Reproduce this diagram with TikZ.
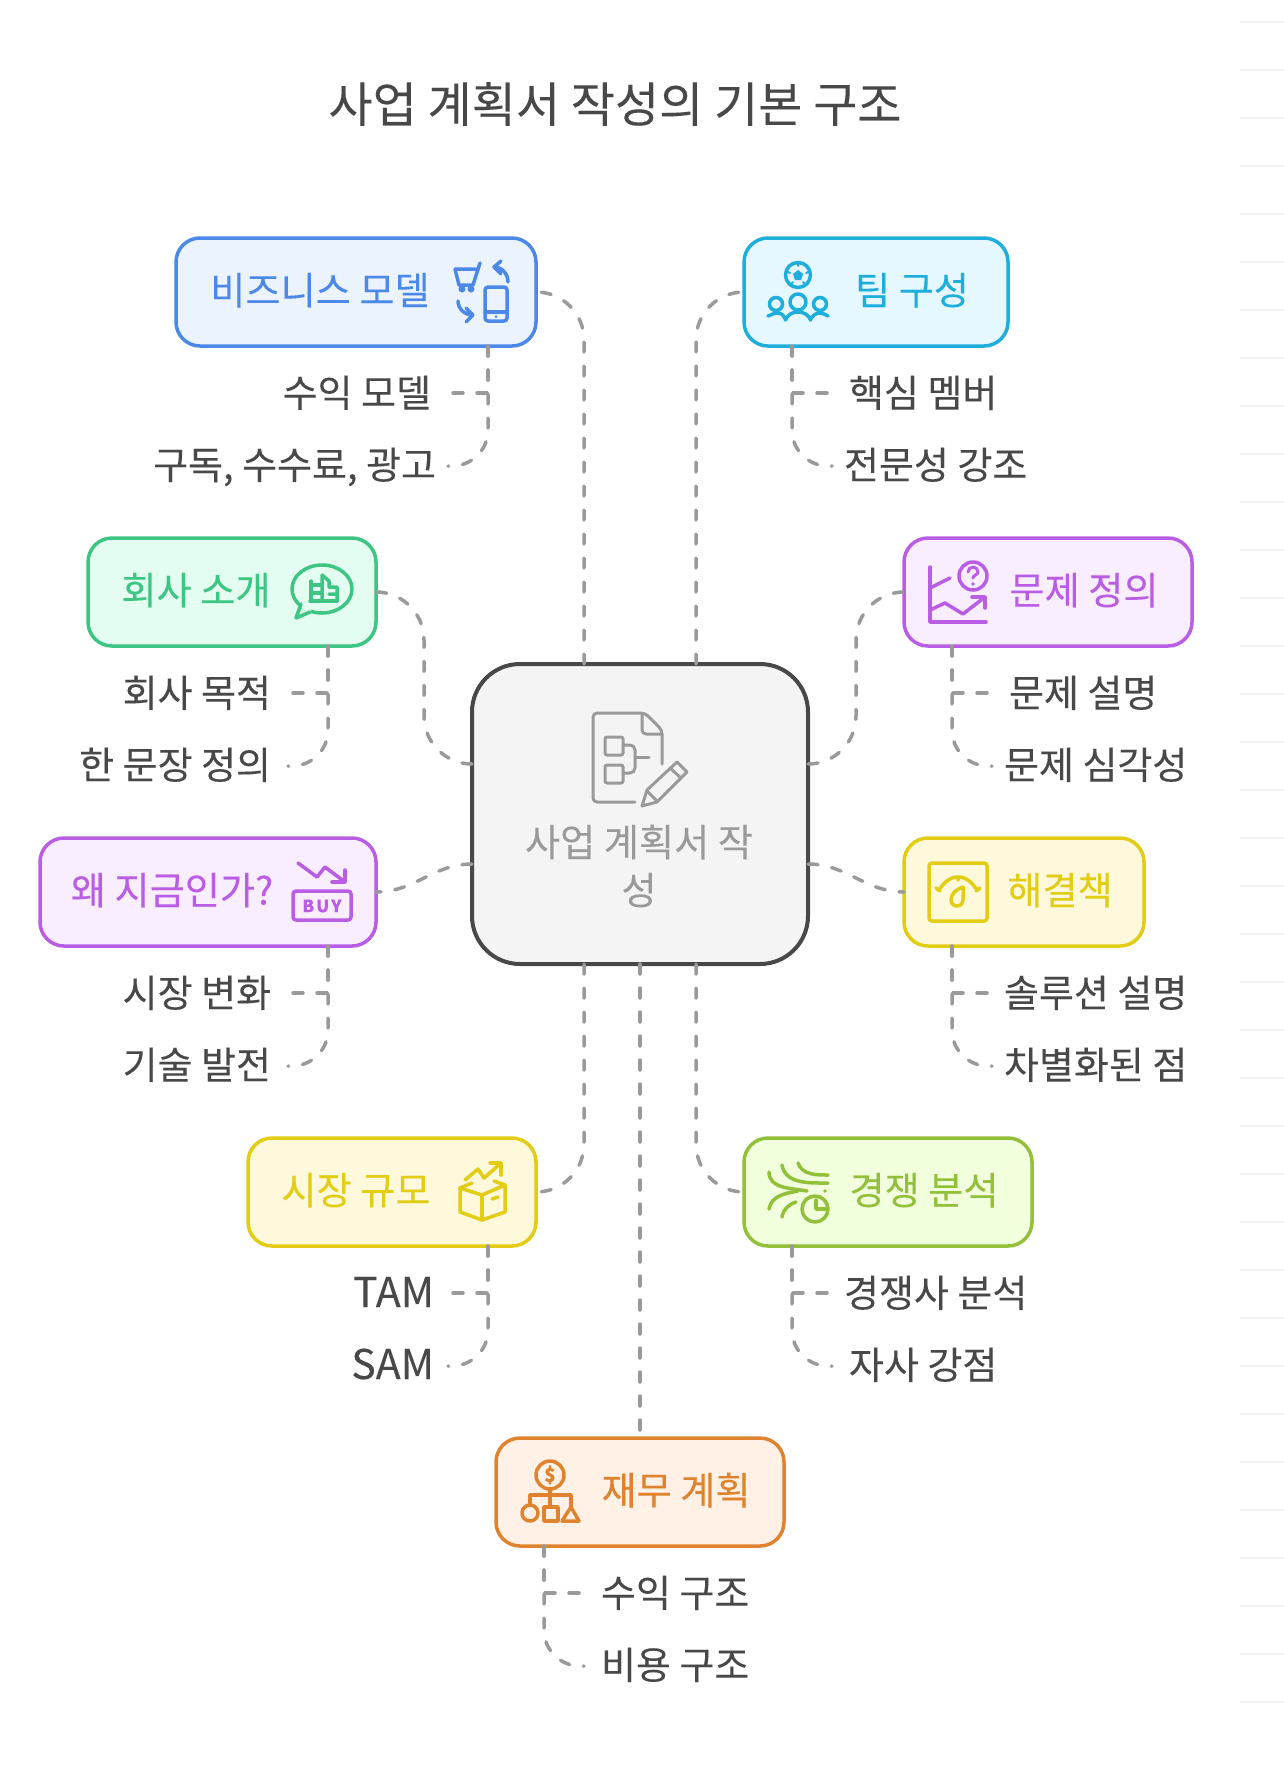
\documentclass[tikz,border=0pt]{standalone}
\usepackage{fontspec}
\setmainfont[FakeBold=0.12]{Noto Sans CJK KR}
\usetikzlibrary{arrows.meta,positioning,calc}
\definecolor{inkgray}{HTML}{484848}
\definecolor{flowgray}{HTML}{9A9A9A}
\definecolor{bizline}{HTML}{4C88E8}
\definecolor{bizfill}{HTML}{EBF3FF}
\definecolor{teamline}{HTML}{1EAEDB}
\definecolor{teamfill}{HTML}{E6F8FF}
\definecolor{firmline}{HTML}{3CC583}
\definecolor{firmfill}{HTML}{E3FDF0}
\definecolor{plumline}{HTML}{BA5DE5}
\definecolor{plumfill}{HTML}{F9EEFF}
\definecolor{goldline}{HTML}{E2CC14}
\definecolor{goldfill}{HTML}{FEF9DB}
\definecolor{rivalline}{HTML}{93C03A}
\definecolor{rivalfill}{HTML}{F2FFDC}
\definecolor{cashline}{HTML}{E0832F}
\definecolor{cashfill}{HTML}{FFF1E5}
\newcommand{\iconpad}{\hspace*{72pt}}

\begin{document}
\begin{tikzpicture}[
    x=1pt,y=-1pt,
    topic/.style 2 args={draw=#1,fill=#2,text=#1,line width=3.5pt,rounded corners=24pt,
      minimum height=108pt,inner sep=0pt,outer sep=0pt,text height=29pt,text depth=4pt,
      font=\fontsize{38.2pt}{46pt}\selectfont},
    core/.style={draw=inkgray,fill=black!4.5,line width=4pt,rounded corners=48pt,
      minimum width=336pt,minimum height=300pt,outer sep=0pt},
    subl/.style={text=inkgray,inner ysep=0pt,inner xsep=22pt,outer sep=0pt,text height=30pt,
      text depth=2pt,font=\fontsize{38pt}{46pt}\selectfont},
    subb/.style={subl,inner xsep=17pt,text height=29pt,text depth=3pt},
    latin/.style={font=\fontsize{41pt}{46pt}\selectfont},
    flow/.style={draw=flowgray,line width=3.5pt,dash pattern=on 10pt off 14pt,line cap=round},
    bendflow/.style={flow,rounded corners=48pt},
    curlflow/.style={flow,rounded corners=36pt},
    icon/.style={color=#1,line width=3.5pt,line cap=round,line join=round},
    glyph/.style 2 args={text=#1,inner sep=0pt,outer sep=0pt,font=\bfseries\fontsize{#2}{#2}\selectfont}
  ]
    \fill[white] (0,0) rectangle (1284,1770);
    \useasboundingbox (0,0) rectangle (1284,1770);
    \foreach \k in {0,...,35}
      \draw[black!5,line width=2pt] (1240,22+48*\k) -- (1284,22+48*\k);

    \node[text=inkgray,font=\fontsize{48pt}{56pt}\selectfont] (title) at (615,104) {사업 계획서 작성의 기본 구조};

    % middle
    \node[core] (ctr) at (640,814) {};
    \node[text=flowgray,align=center,font=\fontsize{38.2pt}{48pt}\selectfont] (ctrtext) at (639,866) {사업 계획서 작\\성};
    \coordinate (ctrnw) at ([xshift=-56pt]ctr.north);
    \coordinate (ctrne) at ([xshift=56pt]ctr.north);
    \coordinate (ctrsw) at ([xshift=-56pt]ctr.south);
    \coordinate (ctrse) at ([xshift=56pt]ctr.south);
    \coordinate (ctrwn) at ([yshift=50pt]ctr.west);
    \coordinate (ctrws) at ([yshift=-50pt]ctr.west);
    \coordinate (ctren) at ([yshift=50pt]ctr.east);
    \coordinate (ctres) at ([yshift=-50pt]ctr.east);

    % topics
    \node[topic={bizline}{bizfill},minimum width=360pt] (biz) at (356,292) {비즈니스 모델\iconpad};
    \node[topic={teamline}{teamfill},minimum width=264pt] (team) at (876,292) {\iconpad 팀 구성};
    \node[topic={firmline}{firmfill},minimum width=288pt] (firm) at (232,592) {회사 소개\iconpad};
    \node[topic={plumline}{plumfill},minimum width=288pt] (prob) at (1048,592) {\iconpad 문제 정의};
    \node[topic={plumline}{plumfill},minimum width=336pt] (why) at (208,892) {왜 지금인가?\iconpad};
    \node[topic={goldline}{goldfill},minimum width=240pt] (solve) at (1024,892) {\iconpad 해결책};
    \node[topic={goldline}{goldfill},minimum width=288pt] (market) at (392,1192) {시장 규모\iconpad};
    \node[topic={rivalline}{rivalfill},minimum width=288pt] (rival) at (888,1192) {\iconpad 경쟁 분석};
    \node[topic={cashline}{cashfill},minimum width=288pt] (cash) at (640,1492) {\iconpad 재무 계획};

    \coordinate (bizfoot) at (488,346);
    \coordinate (teamfoot) at (792,346);
    \coordinate (firmfoot) at (328,646);
    \coordinate (probfoot) at (952,646);
    \coordinate (whyfoot) at (328,946);
    \coordinate (solvefoot) at (952,946);
    \coordinate (marketfoot) at (488,1246);
    \coordinate (rivalfoot) at (792,1246);
    \coordinate (cashfoot) at (544,1546);

    % labels under the topics
    \node[subl,anchor=east] (bizA) at ([shift={(-35,47)}]bizfoot) {수익 모델};
    \node[subb,inner xsep=12pt,below=73pt of bizA.east,xshift=-5pt,anchor=east] (bizB) {구독, 수수료, 광고};
    \node[subl,anchor=west] (teamA) at ([shift={(35,47)}]teamfoot) {핵심 멤버};
    \node[subb,inner xsep=12pt,below=73pt of teamA.west,xshift=5pt,anchor=west] (teamB) {전문성 강조};
    \node[subl,anchor=east] (firmA) at ([shift={(-35,47)}]firmfoot) {회사 목적};
    \node[subb,below=73pt of firmA.east,xshift=-5pt,anchor=east] (firmB) {한 문장 정의};
    \node[subl,anchor=west] (probA) at ([shift={(35,47)}]probfoot) {문제 설명};
    \node[subb,inner xsep=12pt,below=73pt of probA.west,xshift=5pt,anchor=west] (probB) {문제 심각성};
    \node[subl,anchor=east] (whyA) at ([shift={(-35,47)}]whyfoot) {시장 변화};
    \node[subb,below=73pt of whyA.east,xshift=-5pt,anchor=east] (whyB) {기술 발전};
    \node[subl,inner xsep=17pt,anchor=west] (solveA) at ([shift={(35,47)}]solvefoot) {솔루션 설명};
    \node[subb,inner xsep=12pt,below=73pt of solveA.west,xshift=5pt,anchor=west] (solveB) {차별화된 점};
    \node[subl,latin,inner xsep=19pt,anchor=east] (marketA) at ([shift={(-35,47)}]marketfoot) {TAM};
    \node[subb,latin,inner xsep=14pt,below=73pt of marketA.east,xshift=-5pt,anchor=east] (marketB) {SAM};
    \node[subl,inner xsep=17pt,anchor=west] (rivalA) at ([shift={(35,47)}]rivalfoot) {경쟁사 분석};
    \node[subb,below=73pt of rivalA.west,xshift=5pt,anchor=west] (rivalB) {자사 강점};
    \node[subl,anchor=west] (cashA) at ([shift={(35,47)}]cashfoot) {수익 구조};
    \node[subb,below=73pt of cashA.west,xshift=5pt,anchor=west] (cashB) {비용 구조};

    % links from the middle
    \draw[bendflow] (ctrnw) |- (biz.east);
    \draw[bendflow] (ctrne) |- (team.west);
    \draw[bendflow] (ctrwn) -- ++(-48,0) |- (firm.east);
    \draw[bendflow] (ctren) -- ++(48,0) |- (prob.west);
    \draw[flow] (ctrws) to[out=180,in=0] (why.east);
    \draw[flow] (ctres) to[out=0,in=180] (solve.west);
    \draw[bendflow] (ctrsw) |- (market.east);
    \draw[bendflow] (ctrse) |- (rival.west);
    \draw[flow] (ctr.south) -- (cash.north);

    % links under the topics
    \draw[flow] (bizfoot) |- (bizA.east);
    \draw[curlflow] (bizfoot) |- (bizB.east);
    \draw[flow] (teamfoot) |- (teamA.west);
    \draw[curlflow] (teamfoot) |- (teamB.west);
    \draw[flow] (firmfoot) |- (firmA.east);
    \draw[curlflow] (firmfoot) |- (firmB.east);
    \draw[flow] (probfoot) |- (probA.west);
    \draw[curlflow] (probfoot) |- (probB.west);
    \draw[flow] (whyfoot) |- (whyA.east);
    \draw[curlflow] (whyfoot) |- (whyB.east);
    \draw[flow] (solvefoot) |- (solveA.west);
    \draw[curlflow] (solvefoot) |- (solveB.west);
    \draw[flow] (marketfoot) |- (marketA.east);
    \draw[curlflow] (marketfoot) |- (marketB.east);
    \draw[flow] (rivalfoot) |- (rivalA.west);
    \draw[curlflow] (rivalfoot) |- (rivalB.west);
    \draw[flow] (cashfoot) |- (cashA.west);
    \draw[curlflow] (cashfoot) |- (cashB.west);

    % icons
    \begin{scope}[icon=flowgray,line width=3pt]
      \draw[rounded corners=4pt] (635,802) -- (593,802) -- (593,713) -- (645,713) -- (662,730) -- (662,764);
      \draw[rounded corners=4pt] (642,715) -- (642,734) -- (662,734);
      \draw[rounded corners=2pt] (605,737) rectangle (623,755);
      \draw[rounded corners=2pt] (605,765) rectangle (623,783);
      \draw[rounded corners=5pt] (623,745) -- (635,745) -- (635,773) -- (623,773);
      \draw (635,757) -- (649,757);
      \draw (642,806) -- (647,790) -- (677,762) -- (687,772) -- (657,802) -- cycle;
      \draw (670,768) -- (681,778);
      \draw (647,791) -- (657,801);
    \end{scope}

    \begin{scope}[icon=bizline]
      \draw (455,269) -- (476,269) (480,263) -- (473,285) -- (459,285) -- (455,269);
      \fill (462,289) circle (3.5) (471,289) circle (3.5);
      \draw[rounded corners=3pt] (485,287) rectangle (507,321);
      \draw (485,312) -- (507,312);
      \fill (496,316.5) circle (1.5);
      \draw (508,282) to[out=90,in=0] (494,267) (501,261) -- (494,267) -- (501,274);
      \draw (458,301) to[out=-90,in=180] (473,315) (466,308) -- (473,315) -- (466,322);
    \end{scope}

    \begin{scope}[icon=teamline]
      \draw (798,275) circle (12.5);
      \fill (798,270) -- (803,274) -- (801,280) -- (795,280) -- (793,274) -- cycle;
      \draw[line width=2pt] (798,264) -- (798,266) (788,272) -- (790,273) (808,272) -- (806,273) (791,284) -- (793,282) (805,284) -- (803,282);
      \draw (798,302) circle (8);
      \draw (776,304) circle (6.5);
      \draw (820,304) circle (6.5);
      \draw (768,316) to[out=20,in=180] (778,313) to[out=0,in=120] (786,320);
      \draw (785,320) to[out=60,in=180] (798,312) to[out=0,in=120] (811,320);
      \draw (810,320) to[out=60,in=180] (820,313) to[out=0,in=160] (828,316);
    \end{scope}

    \begin{scope}[icon=firmline]
      \draw (322,589) ellipse (30 and 24);
      \draw[firmfill,line width=5pt] (303,606) -- (309,611);
      \draw (301,604) -- (296,618) -- (310,612);
      \draw (310,601) -- (337,601) (311,581) -- (311,601) (311,585) -- (322,585) (311,593) -- (322,593);
      \draw (322,575) -- (322,601) (322,575) -- (329,581) -- (329,587) -- (337,587) -- (337,601) (329,594) -- (337,594);
    \end{scope}

    \begin{scope}[icon=plumline]
      \draw (930,567) -- (930,622) -- (986,622);
      \draw (930,588) -- (950,578);
      \draw (930,610) -- (945,603) -- (963,614) -- (985,597);
      \draw (972,597) -- (985,597) -- (985,608);
      \draw (973,576) circle (14);
      \draw[line width=3pt] (968,572) to[out=90,in=180] (973,567) to[out=0,in=90] (978,572) to[out=-90,in=90] (973,578);
      \fill (973,584) circle (1.9);
      \draw (298,863) -- (317,877) -- (325,867) -- (345,882);
      \draw (345,870) -- (345,882) -- (332,882);
      \draw[rounded corners=3pt] (293,891) rectangle (351,920);
      \node[glyph={plumline}{17pt}] (buy) at (322,906) {B\hspace{2pt}U\hspace{2pt}Y};
    \end{scope}

    \begin{scope}[icon=goldline]
      \draw[rounded corners=3pt] (929,863) rectangle (987,921);
      \draw (939,890) to[out=55,in=180] (958,877) to[out=0,in=125] (977,890);
      \draw (958,877) -- (958,880) (936,888) -- (940,891) (980,888) -- (976,891);
      \draw (963,887) to[out=200,in=90] (951,900) to[out=-90,in=180] (957,906) to[out=0,in=-90] (963,900) to[out=90,in=-80] (963,887);
      % market box
      \draw (460,1188) -- (482,1195) -- (505,1185) -- (505,1212) -- (482,1220) -- (460,1212) -- cycle;
      \draw (482,1195) -- (482,1220);
      \draw (460,1188) -- (472,1183) (505,1185) -- (494,1181);
      \draw (492,1199) -- (498,1197);
      \draw (465,1180) -- (478,1169) -- (484,1178) -- (501,1163);
      \draw (490,1163) -- (501,1163) -- (501,1175);
    \end{scope}

    \begin{scope}[icon=rivalline]
      \draw (769,1172) to[out=-90,in=170] (807,1191);
      \draw (782,1165) to[out=-80,in=180] (828,1183);
      \draw (798,1163) to[out=-70,in=180] (828,1175);
      \draw (769,1209) to[out=80,in=190] (798,1191);
      \draw (782,1217) to[out=80,in=200] (796,1202);
      \fill (825,1191) circle (1.8);
      \draw (815,1209) circle (13);
      \draw (816,1200) -- (816,1209) -- (826,1209);
    \end{scope}

    \begin{scope}[icon=cashline]
      \draw (550,1475) circle (14);
      \node[glyph={cashline}{19pt}] (dollar) at (550,1475) {\$};
      \draw (550,1489) -- (550,1507) (530,1505) -- (530,1495) -- (571,1495) -- (571,1507);
      \draw (530,1513) circle (8);
      \draw (544,1507) rectangle (558,1521);
      \draw (571,1507) -- (562,1521) -- (579,1521) -- cycle;
    \end{scope}
  \end{tikzpicture}
\end{document}
